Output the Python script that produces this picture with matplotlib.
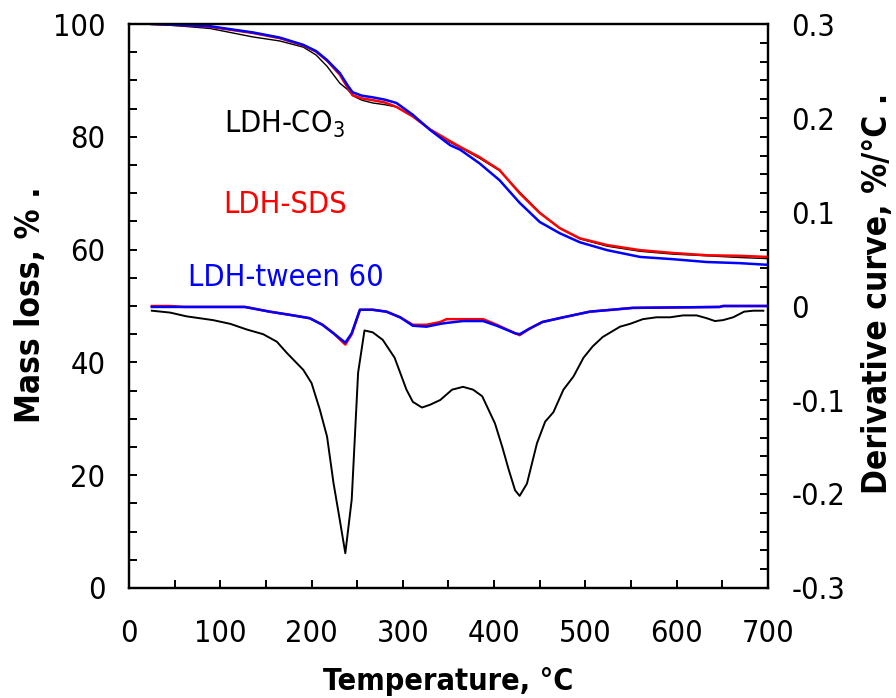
import matplotlib
matplotlib.use("Agg")
import matplotlib.pyplot as plt
from matplotlib import font_manager
from matplotlib.ticker import MultipleLocator, FixedLocator, FixedFormatter

# ---- data ----
temp_tg = [25, 60, 89, 136, 165, 191, 205, 217, 231, 240, 245, 255, 267, 280, 293, 311,
           330, 352, 363, 384, 406, 428, 450, 472, 494, 524, 560, 596, 633, 669, 700]
tg_co3 = [100, 99.6, 99.2, 97.7, 97.0, 95.9, 94.5, 92.5, 89.5, 88.3, 87.3, 86.5, 86.0, 85.7,
          85.3, 83.7, 81.2, 79.0, 78.1, 76.2, 74.0, 70.2, 66.6, 63.8, 61.9, 60.6, 59.7, 59.2,
          58.9, 58.6, 58.4]
tg_sds = [100, 99.8, 99.5, 98.4, 97.5, 96.2, 95.1, 93.5, 91.0, 88.6, 87.4, 86.8, 86.5, 86.1,
          85.3, 83.6, 81.3, 79.2, 78.2, 76.4, 74.1, 70.0, 66.5, 63.8, 62.0, 60.8, 59.9, 59.4,
          59.0, 58.9, 58.7]
tg_tween = [100, 99.8, 99.6, 98.5, 97.6, 96.3, 95.2, 93.6, 91.3, 89.0, 87.9, 87.3, 87.0, 86.6,
            86.0, 83.9, 81.2, 78.5, 77.7, 75.3, 72.3, 68.3, 64.9, 62.9, 61.3, 59.9, 58.7, 58.3,
            57.8, 57.6, 57.3]

temp_dtg_co3 = [25, 45, 63, 92, 111, 129, 147, 162, 173, 191, 200, 209, 217, 224, 231, 237,
                244, 251, 258, 267, 278, 291, 304, 311, 321, 330, 341, 354, 366, 377, 387, 401,
                409, 416, 423, 428, 436, 447, 456, 465, 476, 487, 498, 508, 519, 538, 549, 563,
                578, 593, 607, 622, 633, 642, 651, 662, 674, 684, 695]
dtg_co3 = [-0.005, -0.007, -0.011, -0.015, -0.019, -0.025, -0.030, -0.038, -0.050, -0.068,
           -0.082, -0.110, -0.139, -0.188, -0.228, -0.263, -0.206, -0.071, -0.026, -0.028,
           -0.036, -0.055, -0.089, -0.102, -0.108, -0.105, -0.100, -0.089, -0.086, -0.089,
           -0.096, -0.125, -0.150, -0.174, -0.196, -0.202, -0.189, -0.146, -0.123, -0.113,
           -0.089, -0.075, -0.055, -0.043, -0.033, -0.022, -0.019, -0.014, -0.012, -0.012,
           -0.010, -0.010, -0.013, -0.016, -0.015, -0.012, -0.006, -0.005, -0.005]

temp_dtg = [25, 45, 60, 127, 154, 180, 198, 212, 224, 237, 244, 253, 267, 282, 297, 311, 326,
            341, 348, 366, 388, 403, 423, 428, 439, 453, 476, 505, 529, 552, 647, 651, 700]
dtg_sds = [0.0, 0.0, -0.001, -0.001, -0.006, -0.010, -0.013, -0.020, -0.029, -0.041, -0.030,
           -0.004, -0.004, -0.006, -0.012, -0.020, -0.020, -0.017, -0.014, -0.014, -0.014,
           -0.020, -0.029, -0.031, -0.024, -0.017, -0.012, -0.006, -0.004, -0.002, -0.001,
           0.0, 0.0]
dtg_tween = [-0.001, -0.001, -0.001, -0.001, -0.006, -0.010, -0.013, -0.020, -0.029, -0.039,
             -0.029, -0.004, -0.004, -0.006, -0.012, -0.021, -0.022, -0.019, -0.018, -0.016,
             -0.016, -0.021, -0.029, -0.030, -0.024, -0.017, -0.012, -0.006, -0.004, -0.002,
             -0.001, 0.0, 0.0]

right_ticks = [-0.3, -0.2, -0.1, 0, 0.1, 0.2, 0.3]
right_labels = ["-0.3", "-0.2", "-0.1", "0", "0.1", "0.2", "0.3"]

# ---- fonts ----
names = {f.name for f in font_manager.fontManager.ttflist}
if "DejaVu Sans Condensed" in names:
    plt.rcParams["font.family"] = ["DejaVu Sans Condensed", "DejaVu Sans"]
else:
    plt.rcParams["font.family"] = ["DejaVu Sans"]
plt.rcParams["font.stretch"] = "condensed"
plt.rcParams["axes.unicode_minus"] = False
plt.rcParams["mathtext.default"] = "regular"

TICK_FS = 22
XLABEL_FS = 22
YLABEL_FS = 24

fig = plt.figure(figsize=(8.96, 6.98), dpi=100)
ax = fig.add_axes([0.144, 0.1576, 0.713, 0.808])
ax2 = ax.twinx()

ax.plot(temp_tg, tg_co3, color="black", lw=1.0)
ax.plot(temp_tg, tg_sds, color="red", lw=1.8)
ax.plot(temp_tg, tg_tween, color="blue", lw=1.8)

ax2.plot(temp_dtg_co3, dtg_co3, color="black", lw=1.4)
ax2.plot(temp_dtg, dtg_sds, color="red", lw=1.8)
ax2.plot(temp_dtg, dtg_tween, color="blue", lw=1.8)

ax.set_xlim(0, 700)
ax.set_ylim(0, 100)
ax2.set_ylim(-0.3, 0.3)

ax.xaxis.set_major_locator(MultipleLocator(100))
ax.xaxis.set_minor_locator(MultipleLocator(50))
ax.yaxis.set_major_locator(MultipleLocator(20))
ax.yaxis.set_minor_locator(MultipleLocator(5))
ax2.yaxis.set_major_locator(FixedLocator(right_ticks))
ax2.yaxis.set_major_formatter(FixedFormatter(right_labels))
ax2.yaxis.set_minor_locator(MultipleLocator(0.02))

for a in (ax, ax2):
    for s in a.spines.values():
        s.set_linewidth(1.6)

ax.tick_params(axis="both", which="both", direction="in", length=6, width=1.4,
               top=False, right=False, labelsize=TICK_FS)
ax.tick_params(axis="y", which="major", pad=17)
ax.tick_params(axis="x", which="major", pad=22)
ax2.tick_params(axis="y", which="both", direction="in", length=6, width=1.4,
                labelsize=TICK_FS, pad=17)

ax.text(104, 80.7, "LDH-CO$_3$", color="black", fontsize=TICK_FS, va="baseline")
ax.text(103, 66.5, "LDH-SDS", color="red", fontsize=TICK_FS, va="baseline")
ax.text(64.6, 53.5, "LDH-tween 60", color="blue", fontsize=TICK_FS, va="baseline")

fig.text(0.5, 0.0115, "Temperature, \u00b0C", ha="center", va="baseline",
         fontsize=XLABEL_FS, fontweight="bold")
fig.text(0.034, 0.563, "Mass loss, % .", ha="center", va="center", rotation=90,
         fontsize=YLABEL_FS, fontweight="bold")
fig.text(0.979, 0.58, "Derivative curve, %/\u00b0C .", ha="center", va="center",
         rotation=90, fontsize=YLABEL_FS, fontweight="bold")

fig.savefig("out.png", dpi=100)
